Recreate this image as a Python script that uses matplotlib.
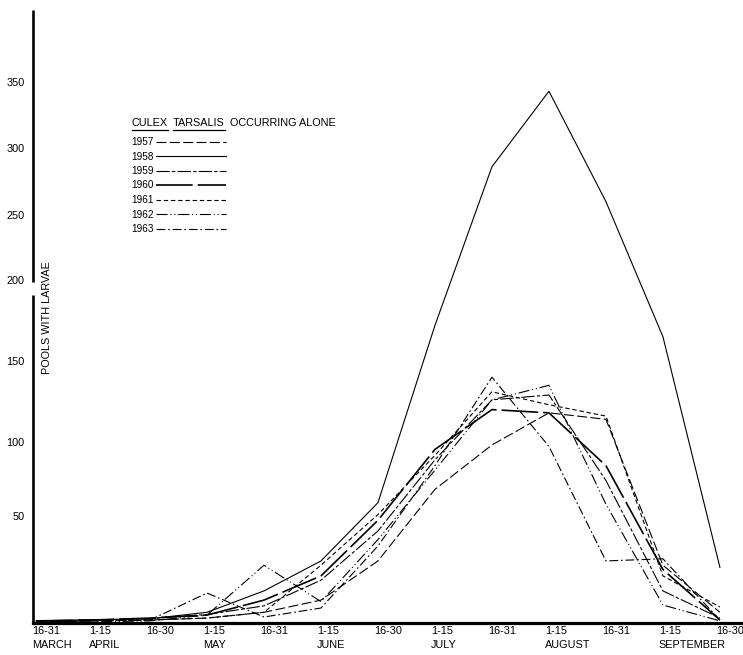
import numpy as np
import matplotlib
matplotlib.use('Agg')
import matplotlib.pyplot as plt
import matplotlib.transforms as mtrans
from matplotlib.lines import Line2D

plt.rcParams['font.family'] = ['Liberation Sans', 'DejaVu Sans']

# half-month periods, 16-31 March .. 16-30 September
periods = ['16-31', '1-15', '16-30', '1-15', '16-31', '1-15', '16-30',
           '1-15', '16-31', '1-15', '16-31', '1-15', '16-30']
months = ['MARCH', 'APRIL', 'MAY', 'JUNE', 'JULY', 'AUGUST', 'SEPTEMBER']
month_at = [0, 1, 3, 5, 7, 9, 11]   # period each month name sits under

years = ['1957', '1958', '1959', '1960', '1961', '1962', '1963']

# pools with larvae
pools_1957 = [0.5, 1, 1.4, 2.3, 5, 10.7, 29, 68, 98, 118, 114, 27, 5]
pools_1958 = [1, 1.5, 2, 5, 15, 29, 59, 172, 286, 343, 260, 165, 26]
pools_1959 = [1, 1.4, 2, 4, 8, 20, 43, 88, 126, 129, 74, 15, 2.3]
pools_1960 = [1, 1.4, 2.3, 3.7, 10.7, 22, 48, 95, 120, 118, 84, 25, 1.4]
pools_1961 = [0.5, 1, 1.4, 2.3, 5, 27, 51, 91, 131, 123, 116, 22, 7.5]
pools_1962 = [0.5, 0.5, 1, 3.7, 27, 10, 39, 81, 126, 135, 58, 8.4, 1]
pools_1963 = [0.5, 1, 1.4, 14, 2.8, 7, 36, 84, 140, 97, 29, 30, 1.4]

y_ticks = [50, 100, 150, 200, 250, 300, 350]

# the hand drawn y axis is not evenly spaced -> piecewise scale (value -> pixels up from baseline)
scale_vals = [-100, 0, 50, 100, 150, 200, 250, 300, 350, 405, 600]
scale_pos = [-214, 0, 107, 181, 262, 343, 408, 475, 541, 613, 870]


def fwd(v):
    return np.interp(v, scale_vals, scale_pos)


def inv(p):
    return np.interp(p, scale_pos, scale_vals)


W, H = 743, 655
fig = plt.figure(figsize=(W / 100, H / 100), dpi=100)
ax = fig.add_axes([33 / W, 32 / H, 708 / W, 613 / H])

styles = {
    '1957': dict(ls=(0, (9, 3)), lw=0.8),
    '1958': dict(ls='-', lw=0.8),
    '1959': dict(ls=(0, (12, 2, 3, 2)), lw=0.8),
    '1960': dict(ls=(0, (22, 3)), lw=1.2),
    '1961': dict(ls=(0, (4, 2.5)), lw=0.8),
    '1962': dict(ls=(0, (10, 2.5, 1, 2.5, 1, 2.5)), lw=0.8),
    '1963': dict(ls=(0, (8, 2.5, 1.5, 2.5)), lw=0.8),
}

series = [pools_1957, pools_1958, pools_1959, pools_1960, pools_1961, pools_1962, pools_1963]
x = np.arange(len(periods))
handles = []
for yr, vals in zip(years, series):
    h, = ax.plot(x, vals, color='black', label=yr, **styles[yr])
    handles.append(h)

ax.set_yscale('function', functions=(fwd, inv))
ax.set_xlim(-0.053, 12.37)
ax.set_ylim(0, 405)

ax.set_yticks(y_ticks)
ax.set_yticklabels([str(v) for v in y_ticks], fontsize=7.8)
ax.xaxis.remove_overlapping_locs = False
ax.set_xticks(x)
ax.set_xticklabels(periods, fontsize=7.8, ha='left')
ax.set_xticks(month_at, minor=True)
ax.set_xticklabels(months, minor=True, fontsize=7.8, ha='left')
ax.tick_params(axis='both', which='both', length=0)
ax.tick_params(axis='y', pad=6)
ax.tick_params(axis='x', which='major', pad=2.5)
ax.tick_params(axis='x', which='minor', pad=12.5)
shift = mtrans.ScaledTranslation(-3 / 72, 0, fig.dpi_scale_trans)
for lab in ax.get_xticklabels() + ax.get_xticklabels(minor=True):
    lab.set_transform(lab.get_transform() + shift)

for s in ['top', 'right', 'left']:
    ax.spines[s].set_visible(False)
ax.spines['bottom'].set_linewidth(2.3)

# broken left axis (gap just under 200)
x0 = ax.get_xlim()[0]
ax.plot([x0, x0], [0, 191], color='black', lw=1.9, clip_on=False, solid_capstyle='butt')
ax.plot([x0, x0], [199, 405], color='black', lw=1.9, clip_on=False, solid_capstyle='butt')

fig.text(47 / W, 1 - 318 / H, 'POOLS WITH LARVAE', rotation=90, ha='center', va='center', fontsize=7.8)

leg = ax.legend(handles=handles, loc='upper left', bbox_to_anchor=(131 / W, 1 - 137 / H),
                bbox_transform=fig.transFigure, frameon=False, markerfirst=False,
                fontsize=7.2, handlelength=7.0, handletextpad=0.2, labelspacing=0.45,
                borderpad=0, borderaxespad=0)

# heading with underlined species name
fig.canvas.draw()
r = fig.canvas.get_renderer()
xpos = 132
for word, under in [('CULEX', True), ('TARSALIS', True), ('OCCURRING ALONE', False)]:
    t = fig.text(xpos / W, 1 - 123 / H, word, fontsize=7.8, va='center')
    bb = t.get_window_extent(r)
    if under:
        fig.add_artist(Line2D([bb.x0 / W, bb.x1 / W], [(bb.y0 - 1.5) / H] * 2, color='black', lw=0.9))
    xpos = bb.x1 + 5

fig.savefig('out.png', dpi=100)
